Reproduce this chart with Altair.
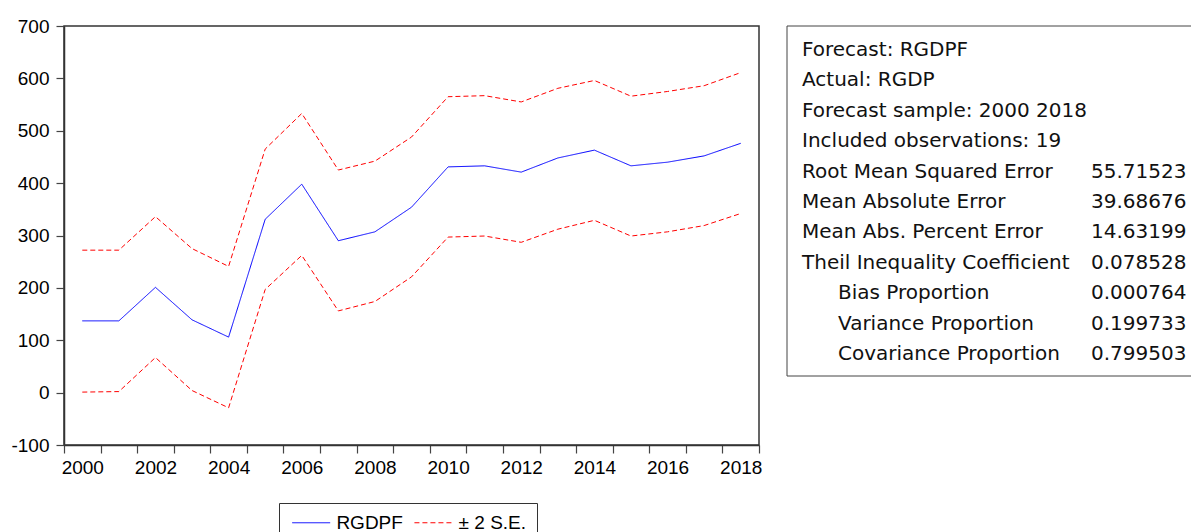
import altair as alt
import pandas as pd

years = list(range(2000, 2019))
rgdpf = [137, 137, 201, 139, 106, 331, 398, 290, 307, 354, 431, 433, 421, 448, 463, 433, 440, 452, 476]
upper = [272, 272, 336, 275, 241, 465, 533, 425, 442, 488, 565, 567, 555, 581, 596, 566, 575, 586, 611]
lower = [1, 2, 67, 4, -29, 197, 262, 156, 174, 221, 297, 299, 287, 312, 329, 299, 307, 319, 342]

series_names = ["RGDPF", "\u00b1 2 S.E."]
y_ticks = [-100, 0, 100, 200, 300, 400, 500, 600, 700]

stat_labels = [
    "Forecast: RGDPF",
    "Actual: RGDP",
    "Forecast sample: 2000 2018",
    "Included observations: 19",
    "Root Mean Squared Error",
    "Mean Absolute Error",
    "Mean Abs. Percent Error",
    "Theil Inequality Coefficient",
    "Bias Proportion",
    "Variance Proportion",
    "Covariance Proportion",
]
stat_values = ["", "", "", "", "55.71523", "39.68676", "14.63199",
               "0.078528", "0.000764", "0.199733", "0.799503"]
stat_indent = [0, 0, 0, 0, 0, 0, 0, 0, 1, 1, 1]

rows = []
for part, vals, name in [("f", rgdpf, series_names[0]),
                         ("u", upper, series_names[1]),
                         ("l", lower, series_names[1])]:
    for yr, v in zip(years, vals):
        rows.append({"year": yr, "value": v, "series": name, "part": part})
df = pd.DataFrame(rows)

stats = pd.DataFrame({
    "row": list(range(len(stat_labels))),
    "label": stat_labels,
    "value": stat_values,
    "indent": stat_indent,
})

boundaries = [y - 0.5 for y in years] + [years[-1] + 0.5]

legend = alt.Legend(
    title=None, orient="none", legendX=215, legendY=477, direction="horizontal",
    strokeColor="#333", padding=10, symbolType="M-3,0L3,0", symbolSize=160,
    symbolOffset=12.7, symbolStrokeWidth=1, labelFont="Liberation Sans",
    labelFontSize=19, labelColor="black", labelOffset=15.7, columnPadding=8.2,
    fillColor="white",
)

lines = alt.Chart(df).mark_line(strokeWidth=1).encode(
    x=alt.X("year:Q",
            scale=alt.Scale(domain=[1999.5, 2018.5], nice=False, zero=False),
            axis=alt.Axis(values=boundaries, title=None, grid=False,
                          labelExpr="((datum.value - 1999.5) % 2 == 0 && datum.value < 2018) ? toString(datum.value + 0.5) : ''",
                          labelOffset=18.3, labelFlush=False, labelOverlap=False,
                          labelBound=False, tickSize=8, labelPadding=5)),
    y=alt.Y("value:Q",
            scale=alt.Scale(domain=[-100, 700], nice=False, zero=False),
            axis=alt.Axis(values=y_ticks, title=None, grid=False, tickSize=8,
                          labelPadding=7, labelExpr="'' + datum.value")),
    color=alt.Color("series:N",
                    scale=alt.Scale(domain=series_names, range=["#0000ff", "#ff0000"]),
                    legend=legend),
    strokeDash=alt.StrokeDash("series:N",
                              scale=alt.Scale(domain=series_names, range=[[1, 0], [5, 3]]),
                              legend=legend),
    detail="part:N",
)

box = alt.Chart(pd.DataFrame({"a": [0]})).mark_rect(
    fillOpacity=0, stroke="#444", strokeWidth=1
).encode(x=alt.value(723), x2=alt.value(1160), y=alt.value(0), y2=alt.value(350))

row_y = alt.Y("row:Q", scale=alt.Scale(domain=[0, 10], range=[30, 334]), axis=None)
text_style = dict(font="DejaVu Sans", fontSize=20, align="left", baseline="alphabetic", color="#111")

t_main = alt.Chart(stats).transform_filter("datum.indent == 0").mark_text(**text_style).encode(
    x=alt.value(738), y=row_y, text="label:N")
t_ind = alt.Chart(stats).transform_filter("datum.indent == 1").mark_text(**text_style).encode(
    x=alt.value(774), y=row_y, text="label:N")
t_val = alt.Chart(stats).mark_text(**text_style).encode(
    x=alt.value(1027), y=row_y, text="value:N")

chart = alt.layer(box, lines, t_main, t_ind, t_val).resolve_scale(
    y="independent"
).properties(
    width=695, height=419,
    autosize=alt.AutoSizeParams(type="none"),
    padding={"left": 56, "top": 18, "right": 432, "bottom": 95},
    background="white",
).configure_view(
    stroke="#333", strokeWidth=1.5
).configure_axis(
    domainColor="#333", domainWidth=1.5, tickColor="#444", tickWidth=1.2,
    labelFont="Liberation Sans", labelFontSize=19, labelColor="black",
)

chart.save("out.html", embed_options={"renderer": "svg", "actions": False})
